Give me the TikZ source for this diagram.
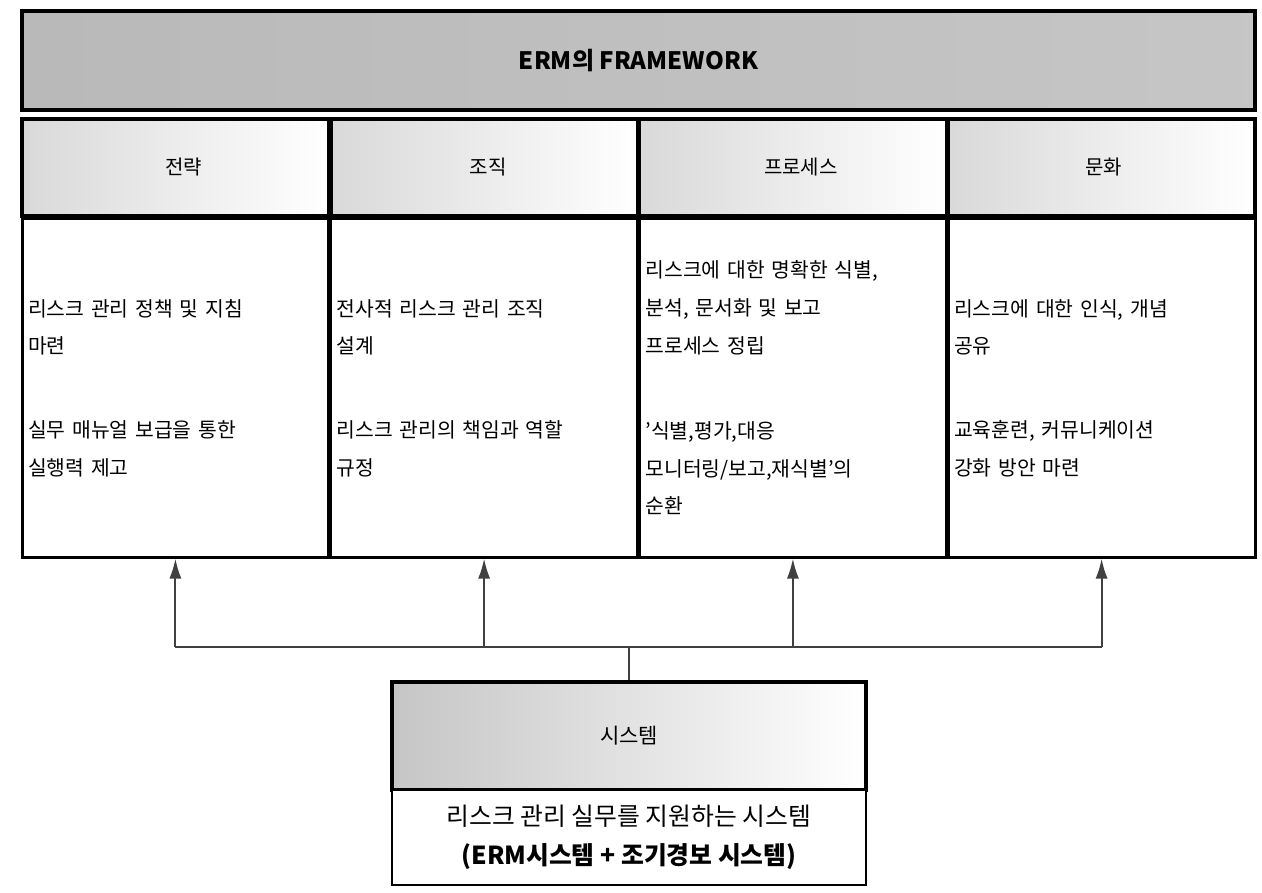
\documentclass[tikz,border=0pt]{standalone}
\usepackage{fontspec}
\setmainfont{Noto Sans CJK KR}
\usetikzlibrary{arrows.meta}
\begin{document}
\begin{tikzpicture}[x=0.5pt,y=-0.5pt,
  hdr/.style={draw, line width=2.2pt, minimum width=616.5pt, minimum height=49.5pt, inner sep=0pt,
    left color=gray!55, right color=gray!45, font=\bfseries\fontsize{12}{14}\selectfont},
  colhead/.style={draw, line width=1.8pt, minimum width=153.4pt, minimum height=48.5pt, inner sep=0pt,
    left color=gray!30, right color=white, font=\fontsize{10}{12}\selectfont},
  bodybox/.style={draw, line width=1.5pt, text width=147.4pt, inner xsep=3pt, inner ysep=0pt,
    minimum height=169pt, align=left, fill=white, font=\fontsize{10.2}{18.8}\selectfont},
  syshead/.style={draw, line width=2.2pt, minimum width=237pt, minimum height=54pt, inner sep=0pt,
    left color=gray!45, right color=white, font=\fontsize{10.5}{12}\selectfont},
  sysbody/.style={draw, line width=1.3pt, minimum width=237pt, minimum height=47.5pt, inner sep=0pt,
    align=center, fill=white, font=\fontsize{12.4}{19.5}\selectfont},
  conn/.style={draw=black!75, line width=1pt},
  arr/.style={conn, -{Latex[length=10pt,width=6pt]}},
]
\useasboundingbox (0,0) rectangle (1262,893);

\node[hdr] (frame) at (638.5,60.5) {ERM의 FRAMEWORK};

\node[colhead] (h1) at (175.4,167.5) {\hspace*{8pt}전략};
\node[colhead] (h2) at (484.1,167.5) {\hspace*{4pt}조직};
\node[colhead] (h3) at (792.9,167.5) {\hspace*{8pt}프로세스};
\node[colhead] (h4) at (1101.6,167.5) {\hspace*{2pt}문화};

\node[bodybox] (b1) at (175.4,388) {리스크 관리 정책 및 지침\\마련\\[23pt]실무 매뉴얼 보급을 통한\\실행력 제고};
\node[bodybox] (b2) at (484.1,388) {전사적 리스크 관리 조직\\설계\\[23pt]리스크 관리의 책임과 역할\\규정};
\node[bodybox] (b3) at (792.9,388) {리스크에 대한 명확한 식별,\\분석, 문서화 및 보고\\프로세스 정립\\[24pt]'식별,평가,대응\\모니터링/보고,재식별'의\\순환};
\node[bodybox] (b4) at (1101.6,388) {리스크에 대한 인식, 개념\\공유\\[23pt]교육훈련, 커뮤니케이션\\강화 방안 마련};

\node[syshead] (sys) at (629,736) {시스템};
\node[sysbody] (sysb) at (629,837.5) {리스크 관리 실무를 지원하는 시스템\\\textbf{(ERM시스템 + 조기경보 시스템)}};

\coordinate (hub) at (629,647);
\draw[conn] (sys.north) -- (hub);
\draw[conn] (b1.south |- hub) -- (b4.south |- hub);
\foreach \b in {b1,b2,b3,b4}
  \draw[arr] (\b.south |- hub) -- (\b.south);
\end{tikzpicture}
\end{document}
